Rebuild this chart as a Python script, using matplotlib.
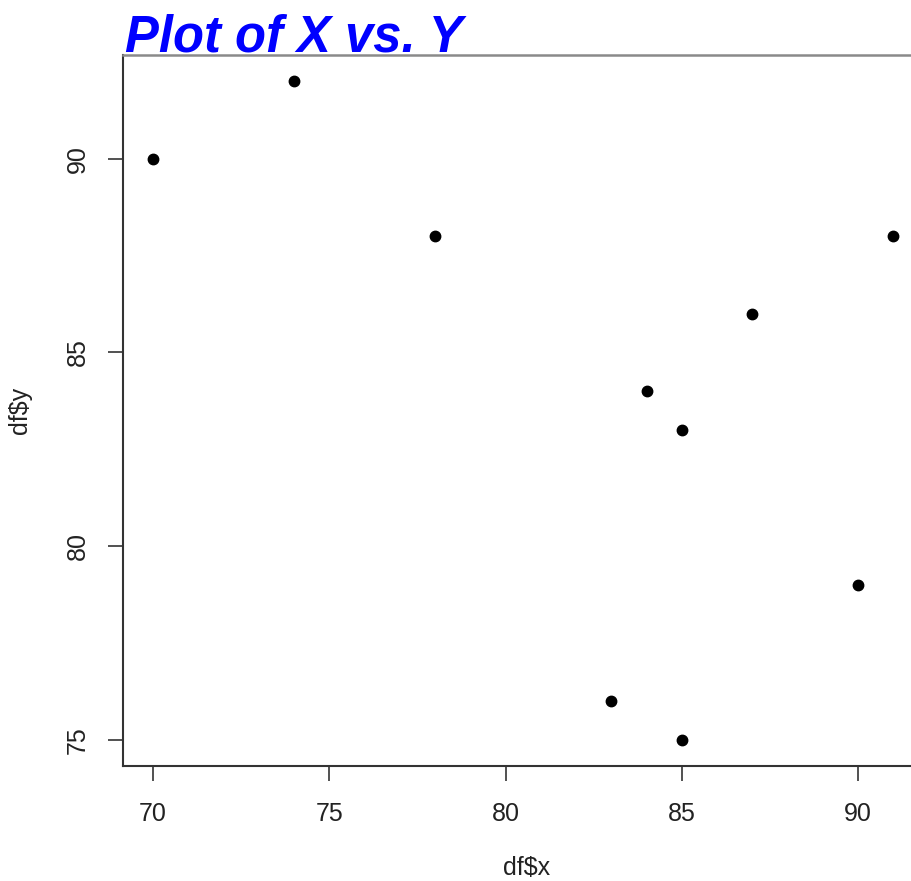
import matplotlib
matplotlib.use('Agg')
import matplotlib.pyplot as plt

# data
x_vals = [70, 74, 78, 91, 87, 84, 85, 90, 83, 85]
y_vals = [90, 92, 88, 88, 86, 84, 83, 79, 76, 75]
x_ticks = [70, 75, 80, 85, 90]
y_ticks = [75, 80, 85, 90]

plt.rcParams['font.family'] = ['Liberation Sans', 'DejaVu Sans']

W, H = 912, 881
fig = plt.figure(figsize=(W / 100, H / 100), dpi=100)

# axes box: left edge at px 125, bottom at 766, top at 55; right edge runs past the crop
left, right, top, bottom = 123.4, 923, 55, 766
ax = fig.add_axes([left / W, (H - bottom) / H, (right - left) / W, (bottom - top) / H])

ax.plot(x_vals, y_vals, 'o', color='black', markersize=7.5)

# R-style 4% padding
ax.set_xlim(69.16, 91.84)
ax.set_ylim(74.32, 92.68)
ax.set_xticks(x_ticks)
ax.set_yticks(y_ticks)
ax.set_yticklabels([str(v) for v in y_ticks], rotation=90, va='center')

ax.tick_params(axis='both', length=11, width=1.2, color='#333333',
               labelsize=18, labelcolor='#222222')
ax.tick_params(axis='x', pad=15)
ax.tick_params(axis='y', pad=13)

for side in ['left', 'bottom']:
    ax.spines[side].set_color('#333333')
    ax.spines[side].set_linewidth(1.5)
ax.spines['top'].set_color('#8a8a8a')
ax.spines['top'].set_linewidth(1.8)
ax.spines['right'].set_visible(False)

fig.text(527 / W, 1 - 868 / H, 'df$x', ha='center', va='center', fontsize=18, color='#222222')
fig.text(20 / W, 1 - 410 / H, 'df$y', ha='center', va='center', fontsize=18,
         color='#222222', rotation=90)

fig.text(125 / W, 1 - 52 / H, 'Plot of X vs. Y', ha='left', va='baseline',
         fontsize=36.5, fontweight='bold', fontstyle='italic', color='#0000ff')

plt.savefig('out.png', dpi=100)
plt.close()
